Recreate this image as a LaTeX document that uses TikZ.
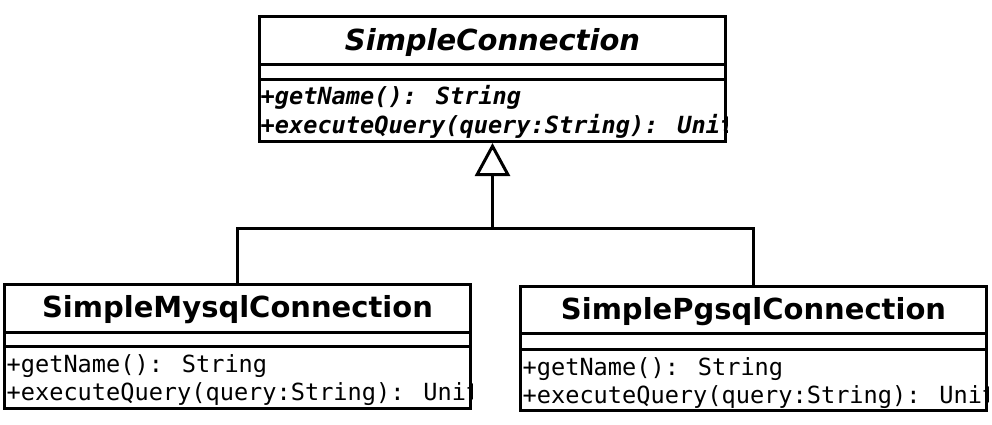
\documentclass[tikz,border=0pt]{standalone}
\usepackage{fontspec}
\setmainfont{DejaVu Sans}[BoldFont={DejaVu Sans Bold},ItalicFont={DejaVu Sans Oblique},BoldItalicFont={DejaVu Sans Bold Oblique}]
\newfontfamily\umlmono{DejaVu Sans Mono}[BoldFont={DejaVu Sans Mono Bold},ItalicFont={DejaVu Sans Mono Oblique},BoldItalicFont={DejaVu Sans Mono Bold Oblique}]
\usetikzlibrary{arrows.meta}
\begin{document}
\begin{tikzpicture}[x=1pt,y=-1pt,
  umlbox/.style={draw,line width=3pt,inner sep=0pt,outer sep=0pt,anchor=north west},
  sep/.style={line width=3pt},
  conn/.style={line width=3pt},
  title/.style={inner sep=0pt,anchor=base,font=\fontsize{29}{29}\selectfont\bfseries},
  meth/.style={inner sep=0pt,anchor=base west,font=\fontsize{23.6}{28}\selectfont\umlmono},
  absmeth/.style={meth,font=\fontsize{23.6}{28}\selectfont\umlmono\bfseries\itshape}]
\useasboundingbox (0,0) rectangle (992,425);
% top box texts
\node[title,font=\fontsize{29}{29}\selectfont\bfseries\itshape] (topname) at (492.5,51) {SimpleConnection};
\begin{scope}
\clip (258,15) rectangle (727,143);
\node[absmeth] (topm1) at (260.5,105) {+getName(): String};
\node[absmeth] (topm2) at (260.5,133) {+executeQuery(query:String): Unit};
\end{scope}
\node[umlbox,minimum width=466pt,minimum height=125pt] (top) at (259.5,16.5) {};
\draw[sep] (top.north west |- 0,64.5) -- (top.north east |- 0,64.5);
\draw[sep] (top.north west |- 0,79.5) -- (top.north east |- 0,79.5);
% left box texts
\node[title] (leftname) at (237.5,317) {SimpleMysqlConnection};
\begin{scope}
\clip (3,283) rectangle (472,410);
\node[meth] (leftm1) at (6.5,372) {+getName(): String};
\node[meth] (leftm2) at (6.5,400) {+executeQuery(query:String): Unit};
\end{scope}
\node[umlbox,minimum width=466pt,minimum height=124pt] (left) at (4.5,284.5) {};
\draw[sep] (left.north west |- 0,332.5) -- (left.north east |- 0,332.5);
\draw[sep] (left.north west |- 0,346.5) -- (left.north east |- 0,346.5);
% right box texts
\node[title] (rightname) at (753.5,319) {SimplePgsqlConnection};
\begin{scope}
\clip (519,285) rectangle (988,412);
\node[meth] (rightm1) at (522.5,375) {+getName(): String};
\node[meth] (rightm2) at (522.5,403) {+executeQuery(query:String): Unit};
\end{scope}
\node[umlbox,minimum width=466pt,minimum height=124pt] (right) at (520.5,286.5) {};
\draw[sep] (right.north west |- 0,333.5) -- (right.north east |- 0,333.5);
\draw[sep] (right.north west |- 0,349.5) -- (right.north east |- 0,349.5);
% connectors
\coordinate (j) at (492.5,228);
\draw[conn,-{Triangle[open,length=33pt,width=35pt,line width=3pt]}] (j) -- ([yshift=-1.5pt]top.south);
\draw[conn] (left.north) |- (j);
\draw[conn] (right.north) |- (j);
\end{tikzpicture}
\end{document}
